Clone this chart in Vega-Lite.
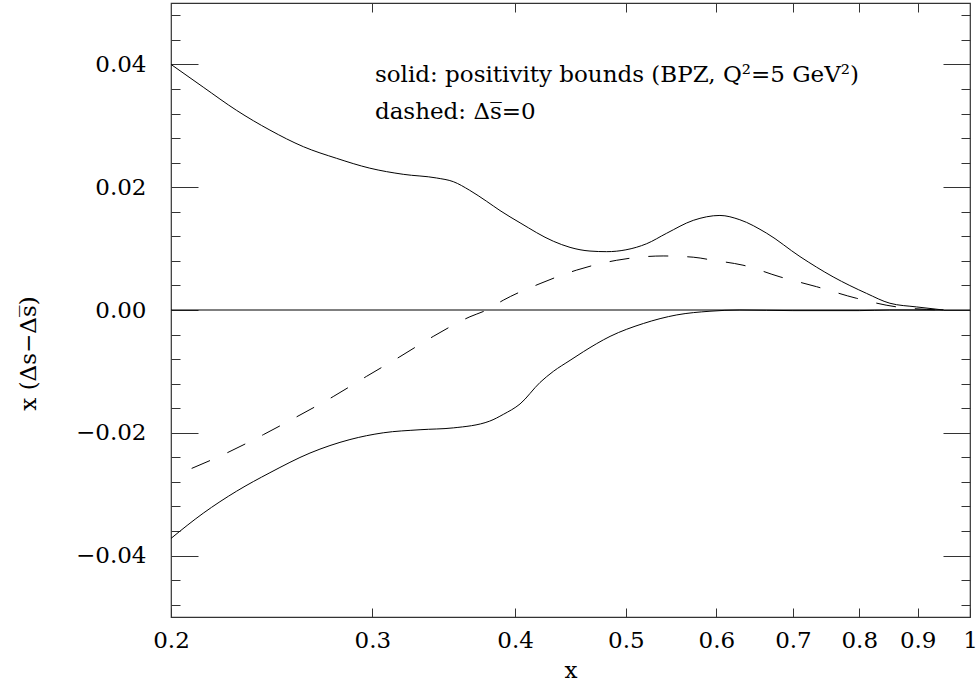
{
  "$schema": "https://vega.github.io/schema/vega-lite/v6.json",
  "width": 799,
  "height": 614,
  "autosize": "none",
  "padding": {"left": 171, "top": 3, "right": 9, "bottom": 67},
  "background": "white",
  "config": {
    "view": {"stroke": "#333", "strokeWidth": 1.2},
    "font": "DejaVu Serif",
    "axis": {
      "labelFont": "DejaVu Serif",
      "labelFontSize": 23,
      "labelColor": "black",
      "titleFont": "DejaVu Serif",
      "titleFontSize": 23,
      "titleFontWeight": "normal",
      "titleColor": "black",
      "tickColor": "#333",
      "tickWidth": 1,
      "domain": false,
      "grid": false,
      "labelFlush": false,
      "labelOverlap": false
    }
  },
  "datasets": {
    "curves": [
      {"curve": "upper", "x": 0.2, "v": 0.0400},
      {"curve": "upper", "x": 0.2134, "v": 0.0363},
      {"curve": "upper", "x": 0.2283, "v": 0.0325},
      {"curve": "upper", "x": 0.2441, "v": 0.0293},
      {"curve": "upper", "x": 0.2611, "v": 0.0266},
      {"curve": "upper", "x": 0.2792, "v": 0.0247},
      {"curve": "upper", "x": 0.2985, "v": 0.0231},
      {"curve": "upper", "x": 0.3193, "v": 0.0221},
      {"curve": "upper", "x": 0.3415, "v": 0.0215},
      {"curve": "upper", "x": 0.3532, "v": 0.0209},
      {"curve": "upper", "x": 0.365, "v": 0.0195},
      {"curve": "upper", "x": 0.3777, "v": 0.0177},
      {"curve": "upper", "x": 0.388, "v": 0.0162},
      {"curve": "upper", "x": 0.404, "v": 0.0142},
      {"curve": "upper", "x": 0.432, "v": 0.0112},
      {"curve": "upper", "x": 0.4468, "v": 0.0102},
      {"curve": "upper", "x": 0.4651, "v": 0.0096},
      {"curve": "upper", "x": 0.481, "v": 0.0095},
      {"curve": "upper", "x": 0.5, "v": 0.0098},
      {"curve": "upper", "x": 0.5214, "v": 0.0108},
      {"curve": "upper", "x": 0.5428, "v": 0.0125},
      {"curve": "upper", "x": 0.5727, "v": 0.0146},
      {"curve": "upper", "x": 0.6043, "v": 0.0154},
      {"curve": "upper", "x": 0.629, "v": 0.0147},
      {"curve": "upper", "x": 0.664, "v": 0.0125},
      {"curve": "upper", "x": 0.71, "v": 0.0087},
      {"curve": "upper", "x": 0.759, "v": 0.0054},
      {"curve": "upper", "x": 0.812, "v": 0.0027},
      {"curve": "upper", "x": 0.851, "v": 0.0011},
      {"curve": "upper", "x": 0.898, "v": 0.0005},
      {"curve": "upper", "x": 0.948, "v": 0.0},
      {"curve": "lower", "x": 0.2, "v": -0.0372},
      {"curve": "lower", "x": 0.2134, "v": -0.0331},
      {"curve": "lower", "x": 0.2283, "v": -0.0295},
      {"curve": "lower", "x": 0.2441, "v": -0.0265},
      {"curve": "lower", "x": 0.2646, "v": -0.0233},
      {"curve": "lower", "x": 0.2868, "v": -0.0211},
      {"curve": "lower", "x": 0.3067, "v": -0.0200},
      {"curve": "lower", "x": 0.3303, "v": -0.0195},
      {"curve": "lower", "x": 0.3532, "v": -0.0192},
      {"curve": "lower", "x": 0.38, "v": -0.0181},
      {"curve": "lower", "x": 0.3906, "v": -0.0170},
      {"curve": "lower", "x": 0.404, "v": -0.0153},
      {"curve": "lower", "x": 0.4206, "v": -0.0118},
      {"curve": "lower", "x": 0.432, "v": -0.0100},
      {"curve": "lower", "x": 0.4468, "v": -0.0082},
      {"curve": "lower", "x": 0.4589, "v": -0.0068},
      {"curve": "lower", "x": 0.4843, "v": -0.0043},
      {"curve": "lower", "x": 0.5179, "v": -0.0022},
      {"curve": "lower", "x": 0.554, "v": -0.0008},
      {"curve": "lower", "x": 0.5923, "v": -0.0002},
      {"curve": "lower", "x": 0.629, "v": 0.0},
      {"curve": "lower", "x": 0.70, "v": -0.0001},
      {"curve": "lower", "x": 0.80, "v": -0.0001},
      {"curve": "lower", "x": 0.85, "v": 0.0},
      {"curve": "lower", "x": 0.948, "v": 0.0},
      {"curve": "dashed", "x": 0.2085, "v": -0.0258},
      {"curve": "dashed", "x": 0.2237, "v": -0.0233},
      {"curve": "dashed", "x": 0.2409, "v": -0.0203},
      {"curve": "dashed", "x": 0.2576, "v": -0.0174},
      {"curve": "dashed", "x": 0.2773, "v": -0.0141},
      {"curve": "dashed", "x": 0.2966, "v": -0.0108},
      {"curve": "dashed", "x": 0.3172, "v": -0.0076},
      {"curve": "dashed", "x": 0.3392, "v": -0.0043},
      {"curve": "dashed", "x": 0.3652, "v": -0.0011},
      {"curve": "dashed", "x": 0.3777, "v": 0.0},
      {"curve": "dashed", "x": 0.3906, "v": 0.0016},
      {"curve": "dashed", "x": 0.4206, "v": 0.0043},
      {"curve": "dashed", "x": 0.4528, "v": 0.0065},
      {"curve": "dashed", "x": 0.4908, "v": 0.0081},
      {"curve": "dashed", "x": 0.539, "v": 0.0088},
      {"curve": "dashed", "x": 0.5727, "v": 0.0086},
      {"curve": "dashed", "x": 0.596, "v": 0.0081},
      {"curve": "dashed", "x": 0.633, "v": 0.0073},
      {"curve": "dashed", "x": 0.682, "v": 0.0054},
      {"curve": "dashed", "x": 0.734, "v": 0.0038},
      {"curve": "dashed", "x": 0.796, "v": 0.0019},
      {"curve": "dashed", "x": 0.863, "v": 0.0005},
      {"curve": "dashed", "x": 0.916, "v": 0.0001},
      {"curve": "dashed", "x": 0.948, "v": 0.0}
    ]
  },
  "resolve": {"axis": {"x": "independent", "y": "independent"}},
  "layer": [
    {
      "data": {"name": "curves"},
      "transform": [{"filter": "datum.curve !== 'dashed'"}],
      "mark": {"type": "line", "color": "black", "strokeWidth": 1, "interpolate": "monotone"},
      "encoding": {
        "x": {
          "field": "x", "type": "quantitative",
          "scale": {"type": "log", "domain": [0.2, 1], "nice": false},
          "axis": {
            "orient": "bottom",
            "values": [0.2, 0.3, 0.4, 0.5, 0.6, 0.7, 0.8, 0.9, 1],
            "format": "~g",
            "tickSize": -9,
            "labelPadding": 21,
            "title": "x",
            "titleY": 60,
            "titleBaseline": "alphabetic"
          }
        },
        "y": {
          "field": "v", "type": "quantitative",
          "scale": {"domain": [-0.05, 0.05], "nice": false, "zero": false},
          "axis": {
            "orient": "left",
            "values": [-0.04, -0.02, 0, 0.02, 0.04],
            "format": ".2f",
            "tickSize": -27,
            "labelPadding": 52,
            "title": "x (\u0394s\u2212\u0394s\u0305)",
            "titleX": -143,
            "titleY": 350,
            "titleAlign": "center",
            "titleBaseline": "middle"
          }
        },
        "detail": {"field": "curve"}
      }
    },
    {
      "data": {"name": "curves"},
      "transform": [{"filter": "datum.curve === 'dashed'"}],
      "mark": {"type": "line", "color": "black", "strokeWidth": 1, "interpolate": "monotone", "strokeDash": [20, 19]},
      "encoding": {
        "x": {
          "field": "x", "type": "quantitative",
          "axis": {
            "orient": "top",
            "values": [0.3, 0.4, 0.5, 0.6, 0.7, 0.8, 0.9],
            "tickSize": -9,
            "labels": false,
            "title": null
          }
        },
        "y": {
          "field": "v", "type": "quantitative",
          "axis": {
            "orient": "right",
            "values": [-0.04, -0.02, 0, 0.02, 0.04],
            "tickSize": -27,
            "labels": false,
            "title": null
          }
        }
      }
    },
    {
      "data": {"values": [{}]},
      "mark": {"type": "rule", "color": "black", "strokeWidth": 1},
      "encoding": {
        "y": {
          "datum": 0, "type": "quantitative",
          "axis": {
            "orient": "left",
            "values": [-0.048, -0.044, -0.036, -0.032, -0.028, -0.024, -0.016, -0.012, -0.008, -0.004, 0.004, 0.008, 0.012, 0.016, 0.024, 0.028, 0.032, 0.036, 0.044, 0.048],
            "tickSize": -9,
            "labels": false,
            "title": null
          }
        }
      }
    },
    {
      "data": {"values": [{"label": "solid: positivity bounds (BPZ, Q\u00b2=5 GeV\u00b2)"}]},
      "mark": {"type": "text", "align": "left", "baseline": "alphabetic", "font": "DejaVu Serif", "fontSize": 23, "color": "black"},
      "encoding": {
        "x": {"datum": 0.3016, "type": "quantitative", "axis": null},
        "y": {
          "datum": 0.0371, "type": "quantitative",
          "axis": {
            "orient": "right",
            "values": [-0.048, -0.044, -0.036, -0.032, -0.028, -0.024, -0.016, -0.012, -0.008, -0.004, 0.004, 0.008, 0.012, 0.016, 0.024, 0.028, 0.032, 0.036, 0.044, 0.048],
            "tickSize": -9,
            "labels": false,
            "title": null
          }
        },
        "text": {"field": "label"}
      }
    },
    {
      "data": {"values": [{"label": "dashed: \u0394s\u0305=0"}]},
      "mark": {"type": "text", "align": "left", "baseline": "alphabetic", "font": "DejaVu Serif", "fontSize": 23, "color": "black"},
      "encoding": {
        "x": {"datum": 0.3016, "type": "quantitative", "axis": null},
        "y": {"datum": 0.0311, "type": "quantitative", "axis": null},
        "text": {"field": "label"}
      }
    }
  ]
}
